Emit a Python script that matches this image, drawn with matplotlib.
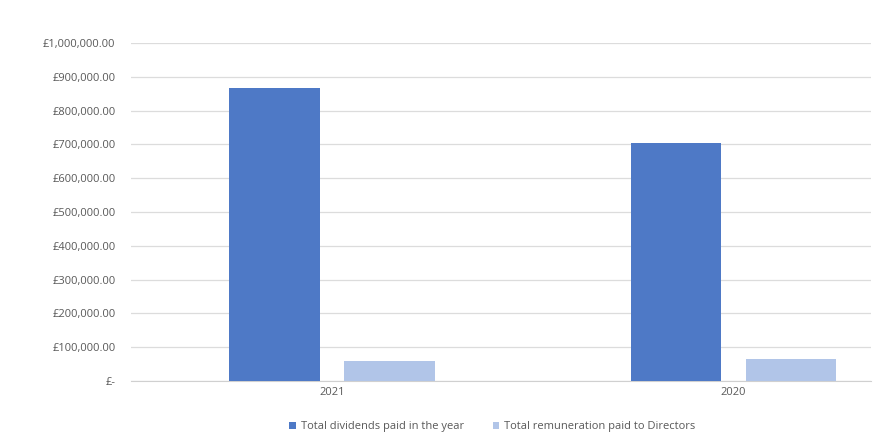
import numpy as np
import matplotlib.pyplot as plt
from matplotlib.ticker import FuncFormatter

years = ["2021", "2020"]
dividends = [866000, 703000]
remuneration = [59000, 66000]
series_names = ["Total dividends paid in the year", "Total remuneration paid to Directors"]

plt.rcParams['font.family'] = ['Open Sans', 'DejaVu Sans']

fig = plt.figure(figsize=(8.9, 4.48), dpi=100)
ax = fig.add_axes([0.147, 0.1496, 0.832, 0.7545])

x = np.arange(len(years))
w = 0.226
ax.bar(x - 0.143, dividends, w, color='#4E79C6', label=series_names[0], zorder=3)
ax.bar(x + 0.143, remuneration, w, color='#B1C5E8', label=series_names[1], zorder=3)

ax.set_xlim(-0.5, 1.343)
ax.set_ylim(0, 1000000)
ax.set_yticks(np.arange(0, 1000001, 100000))

def money(v, pos):
    if v == 0:
        return "£-"
    return "£{:,.2f}".format(v)

ax.yaxis.set_major_formatter(FuncFormatter(money))
ax.set_xticks(x)
ax.set_xticklabels(years)
ax.grid(axis='y', color='#DCDCDC', linewidth=0.9, zorder=0)
for s in ['top', 'right', 'left']:
    ax.spines[s].set_visible(False)
ax.spines['bottom'].set_color('#D0D0D0')
ax.tick_params(axis='both', length=0, labelsize=8, colors='#595959')
ax.tick_params(axis='y', pad=11)
ax.tick_params(axis='x', pad=4)

fig.legend(loc='center', bbox_to_anchor=(0.553, 0.047), ncol=2, frameon=False,
           fontsize=8, handlelength=0.6, handleheight=0.6, columnspacing=2.6,
           handletextpad=0.4, labelcolor='#595959')

plt.savefig('out.png')
